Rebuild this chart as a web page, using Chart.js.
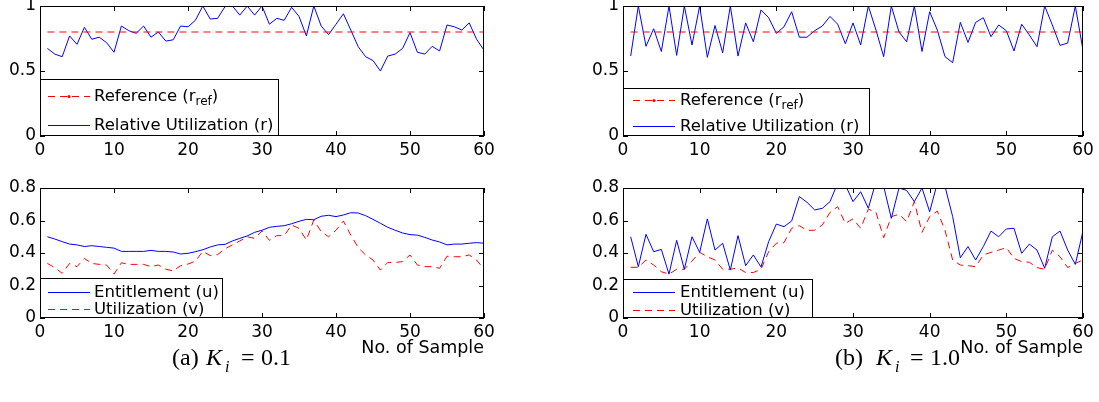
<!DOCTYPE html>
<html><head><meta charset="utf-8">
<script src="https://cdn.jsdelivr.net/npm/chart.js@4.4.1/dist/chart.umd.min.js"></script>
<style>
html,body{margin:0;padding:0;background:#fff;}
body{width:1099px;height:402px;position:relative;overflow:hidden;}
.pane{position:absolute;}
.cap{position:absolute;font-family:"Liberation Serif","Times New Roman",serif;font-size:24px;line-height:24px;color:#000;white-space:nowrap;}
.it{font-style:italic;}
.sub{font-size:16px;line-height:16px;font-style:italic;}
</style></head><body>
<div class="pane" style="left:0;top:0;width:500px;height:160px"><canvas id="c1"></canvas></div>
<div class="pane" style="left:0;top:170px;width:500px;height:190px"><canvas id="c2"></canvas></div>
<div class="pane" style="left:583px;top:0;width:516px;height:160px"><canvas id="c3"></canvas></div>
<div class="pane" style="left:583px;top:170px;width:516px;height:190px"><canvas id="c4"></canvas></div>

<span class="cap" style="left:172px;top:345px">(a)</span>
<span class="cap it" style="left:206px;top:345px">K</span>
<span class="cap sub" style="left:225px;top:359px">i</span>
<span class="cap" style="left:241px;top:345px">=</span>
<span class="cap" style="left:261px;top:345px">0.1</span>

<span class="cap" style="left:835px;top:345px">(b)</span>
<span class="cap it" style="left:876px;top:345px">K</span>
<span class="cap sub" style="left:895px;top:359px">i</span>
<span class="cap" style="left:910px;top:345px">=</span>
<span class="cap" style="left:930px;top:345px">1.0</span>

<script>
// ---- data ----
const sampleNo = [1,2,3,4,5,6,7,8,9,10,11,12,13,14,15,16,17,18,19,20,21,22,23,24,25,26,27,28,29,30,31,32,33,34,35,36,37,38,39,40,41,42,43,44,45,46,47,48,49,50,51,52,53,54,55,56,57,58,59,60];
const xTicks = [0,10,20,30,40,50,60];
const yTicksTop = [0,0.5,1];
const yTicksBottom = [0,0.2,0.4,0.6,0.8];
const refX = [1,60];
const refY = [0.8,0.8];

const relUtilA = [0.674,0.63,0.61,0.77,0.705,0.836,0.744,0.76,0.718,0.644,
  0.846,0.81,0.79,0.846,0.76,0.80,0.73,0.74,0.846,0.84,
  0.89,1.0,0.90,0.905,0.995,1.0,0.93,1.0,0.93,1.0,
  0.86,0.905,0.89,0.99,0.92,0.77,1.0,0.846,0.78,0.86,
  0.94,0.815,0.687,0.61,0.58,0.5,0.615,0.63,0.674,0.795,
  0.644,0.63,0.69,0.654,0.854,0.84,0.815,0.87,0.744,0.66];
const entitlementA = [0.50,0.486,0.47,0.455,0.45,0.44,0.445,0.44,0.435,0.43,
  0.41,0.41,0.41,0.41,0.416,0.41,0.41,0.406,0.394,0.398,
  0.408,0.42,0.437,0.45,0.453,0.474,0.49,0.505,0.527,0.54,
  0.558,0.564,0.568,0.58,0.595,0.607,0.605,0.626,0.632,0.624,
  0.634,0.648,0.646,0.63,0.607,0.583,0.558,0.54,0.523,0.513,
  0.51,0.496,0.48,0.468,0.45,0.455,0.455,0.46,0.464,0.46];
const utilizationA = [0.336,0.31,0.275,0.336,0.316,0.367,0.336,0.33,0.326,0.27,
  0.34,0.33,0.33,0.33,0.316,0.326,0.30,0.29,0.322,0.332,
  0.35,0.41,0.384,0.39,0.425,0.45,0.474,0.50,0.49,0.535,
  0.478,0.507,0.507,0.572,0.552,0.48,0.603,0.531,0.50,0.54,
  0.597,0.51,0.433,0.388,0.357,0.295,0.342,0.342,0.347,0.388,
  0.326,0.316,0.316,0.306,0.38,0.377,0.377,0.388,0.357,0.30];
const relUtilB = [0.615,1.0,0.69,0.825,0.65,1.0,0.62,1.0,0.70,1.0,
  0.605,0.85,0.64,1.0,0.615,0.87,0.725,0.97,0.91,0.79,
  0.84,0.956,0.76,0.76,0.81,0.846,0.92,0.86,0.71,0.87,
  0.70,1.0,0.815,0.61,1.0,0.80,0.725,1.0,0.65,0.956,
  0.815,0.61,0.564,0.874,0.72,0.874,0.91,0.764,0.854,0.81,
  0.654,0.86,0.777,0.687,1.0,0.854,0.697,0.715,1.0,0.66];
const entitlementB = [0.50,0.316,0.515,0.408,0.422,0.27,0.478,0.30,0.50,0.404,
  0.61,0.418,0.46,0.295,0.507,0.322,0.388,0.314,0.47,0.578,
  0.562,0.597,0.747,0.712,0.665,0.675,0.716,0.83,0.82,0.716,
  0.777,0.675,0.84,0.81,0.613,0.80,0.785,0.716,0.80,0.654,
  0.83,0.81,0.624,0.371,0.44,0.357,0.44,0.535,0.50,0.548,
  0.552,0.398,0.455,0.418,0.306,0.50,0.535,0.418,0.33,0.535];
const utilizationB = [0.312,0.312,0.357,0.326,0.285,0.27,0.30,0.30,0.35,0.404,
  0.377,0.357,0.30,0.30,0.308,0.28,0.28,0.30,0.408,0.46,
  0.464,0.552,0.568,0.54,0.54,0.572,0.65,0.685,0.582,0.61,
  0.552,0.67,0.65,0.494,0.624,0.638,0.593,0.716,0.527,0.624,
  0.658,0.54,0.357,0.326,0.322,0.316,0.388,0.404,0.418,0.433,
  0.367,0.347,0.343,0.31,0.30,0.418,0.377,0.31,0.336,0.357];

const BLUE = '#0000ff', RED = '#ff0000';
const DASH = [7,5];
Chart.defaults.font.family = '"DejaVu Sans", sans-serif';
Chart.defaults.font.size = 17;
Chart.defaults.color = '#000';

function pts(xs, ys){ return xs.map((x,i)=>({x:x, y:ys[i]})); }

const matlabBox = {
  id: 'matlabBox',
  afterDatasetsDraw(chart, args, opts){
    const {ctx, chartArea:a, scales} = chart;
    ctx.save();
    ctx.strokeStyle = '#000'; ctx.lineWidth = 1; ctx.setLineDash([]);
    ctx.strokeRect(a.left+0.5, a.top+0.5, a.right-a.left-1, a.bottom-a.top-1);
    ctx.beginPath();
    scales.x.ticks.forEach(t=>{
      const p = Math.round(scales.x.getPixelForValue(t.value))+0.5;
      ctx.moveTo(p, a.bottom); ctx.lineTo(p, a.bottom-5);
      ctx.moveTo(p, a.top); ctx.lineTo(p, a.top+5);
    });
    scales.y.ticks.forEach(t=>{
      const p = Math.round(scales.y.getPixelForValue(t.value))+0.5;
      ctx.moveTo(a.left, p); ctx.lineTo(a.left+5, p);
      ctx.moveTo(a.right, p); ctx.lineTo(a.right-5, p);
    });
    ctx.stroke();
    ctx.restore();
  },
  afterDraw(chart, args, opts){
    const L = opts.legend; if(!L) return;
    const {ctx, chartArea:a} = chart;
    ctx.save();
    const x0 = a.left, y0 = a.bottom - L.h;
    ctx.fillStyle = '#ffffff';
    ctx.fillRect(x0, y0, L.w, L.h);
    ctx.strokeStyle = '#000000'; ctx.lineWidth = 1; ctx.setLineDash([]);
    ctx.strokeRect(x0+0.5, y0+0.5, L.w-1, L.h-1);
    L.rows.forEach(r=>{
      const yy = a.bottom - r.dy;
      if (r.dash){
        ctx.setLineDash(DASH);
        ctx.strokeStyle = r.color;
        ctx.lineWidth = 1;
        ctx.beginPath();
        ctx.moveTo(x0 + L.l0, yy + 0.5); ctx.lineTo(x0 + L.l1, yy + 0.5);
        ctx.stroke();
        ctx.setLineDash([]);
      } else {
        ctx.fillStyle = r.color;
        ctx.fillRect(x0 + L.l0, yy, L.l1 - L.l0, 1);
      }
      if (r.dot){
        ctx.fillStyle = r.color; ctx.beginPath();
        ctx.arc(x0 + (L.l0+L.l1)/2, yy + 0.5, 1.6, 0, Math.PI*2); ctx.fill();
      }
      ctx.fillStyle = '#000000';
      ctx.textBaseline = 'middle'; ctx.textAlign = 'left';
      ctx.font = '16.5px "DejaVu Sans", sans-serif';
      let tx = x0 + L.tx;
      ctx.fillText(r.text, tx, yy + 0.5);
      if (r.sub){
        tx += ctx.measureText(r.text).width;
        ctx.font = '12px "DejaVu Sans", sans-serif';
        ctx.fillText(r.sub, tx, yy + 5.5);
        tx += ctx.measureText(r.sub).width;
        ctx.font = '16.5px "DejaVu Sans", sans-serif';
        ctx.fillText(r.tail, tx, yy + 0.5);
      }
    });
    ctx.restore();
  }
};

function makeChart(id, datasets, yTicks, yMax, xHeight, pad, legend, showTitle){
  new Chart(document.getElementById(id), {
    type: 'line',
    data: { datasets },
    options: {
      responsive: true, maintainAspectRatio: false, animation: false,
      events: [],
      layout: { padding: pad, autoPadding: false },
      plugins: { legend: {display:false}, tooltip: {enabled:false}, matlabBox: { legend } },
      elements: { point: { radius: 0 }, line: { tension: 0, borderWidth: 1 } },
      scales: {
        x: {
          type: 'linear', min: 0, max: 60,
          afterBuildTicks: s => { s.ticks = xTicks.map(v=>({value:v})); },
          afterFit: s => { s.height = xHeight; s.paddingLeft = 0; s.paddingRight = 0; },
          grid: { display: false, drawTicks: false },
          border: { display: false },
          ticks: { padding: 4, maxRotation: 0, autoSkip: false, callback: v => String(v), font: {size: 17} },
          title: { display: showTitle, text: 'No. of Sample', align: 'end', font: {size: 17.5}, padding: {top: 0, bottom: 1} }
        },
        y: {
          type: 'linear', min: 0, max: yMax,
          afterBuildTicks: s => { s.ticks = yTicks.map(v=>({value:v})); },
          afterFit: s => { s.width = 40; s.paddingTop = 0; s.paddingBottom = 0; },
          grid: { display: false, drawTicks: false },
          border: { display: false },
          ticks: { padding: 4, autoSkip: false, callback: v => String(v), font: {size: 17} }
        }
      }
    },
    plugins: [matlabBox]
  });
}

makeChart('c1', [
  { label: 'Reference (r_ref)', data: pts(refX, refY), borderColor: RED, borderDash: DASH },
  { label: 'Relative Utilization (r)', data: pts(sampleNo, relUtilA), borderColor: BLUE }
], yTicksTop, 1, 24, {top:6, right:16, left:0, bottom:0},
{ w: 239, h: 57, l0: 8, l1: 50, tx: 54, rows: [
  { dy: 40, color: RED, dash: true, dot: true, text: 'Reference (r', sub: 'ref', tail: ')' },
  { dy: 11, color: BLUE, dash: false, dot: false, text: 'Relative Utilization (r)' }
]}, false);

makeChart('c2', [
  { label: 'Entitlement (u)', data: pts(sampleNo, entitlementA), borderColor: BLUE },
  { label: 'Utilization (v)', data: pts(sampleNo, utilizationA), borderColor: RED, borderDash: DASH }
], yTicksBottom, 0.8, 42, {top:18, right:16, left:0, bottom:0},
{ w: 183, h: 40, l0: 8, l1: 50, tx: 54, rows: [
  { dy: 26, color: BLUE, dash: false, text: 'Entitlement (u)' },
  { dy: 9, color: RED, dash: true, text: 'Utilization (v)' }
]}, true);

makeChart('c3', [
  { label: 'Reference (r_ref)', data: pts(refX, refY), borderColor: RED, borderDash: DASH },
  { label: 'Relative Utilization (r)', data: pts(sampleNo, relUtilB), borderColor: BLUE }
], yTicksTop, 1, 24, {top:6, right:16, left:0, bottom:0},
{ w: 247, h: 48, l0: 10, l1: 52, tx: 57, rows: [
  { dy: 36, color: RED, dash: true, dot: true, text: 'Reference (r', sub: 'ref', tail: ')' },
  { dy: 10, color: BLUE, dash: false, dot: false, text: 'Relative Utilization (r)' }
]}, false);

makeChart('c4', [
  { label: 'Entitlement (u)', data: pts(sampleNo, entitlementB), borderColor: BLUE },
  { label: 'Utilization (v)', data: pts(sampleNo, utilizationB), borderColor: RED, borderDash: DASH }
], yTicksBottom, 0.8, 42, {top:18, right:16, left:0, bottom:0},
{ w: 190, h: 39, l0: 10, l1: 52, tx: 57, rows: [
  { dy: 26, color: BLUE, dash: false, text: 'Entitlement (u)' },
  { dy: 8, color: RED, dash: true, text: 'Utilization (v)' }
]}, true);
</script>
</body></html>
